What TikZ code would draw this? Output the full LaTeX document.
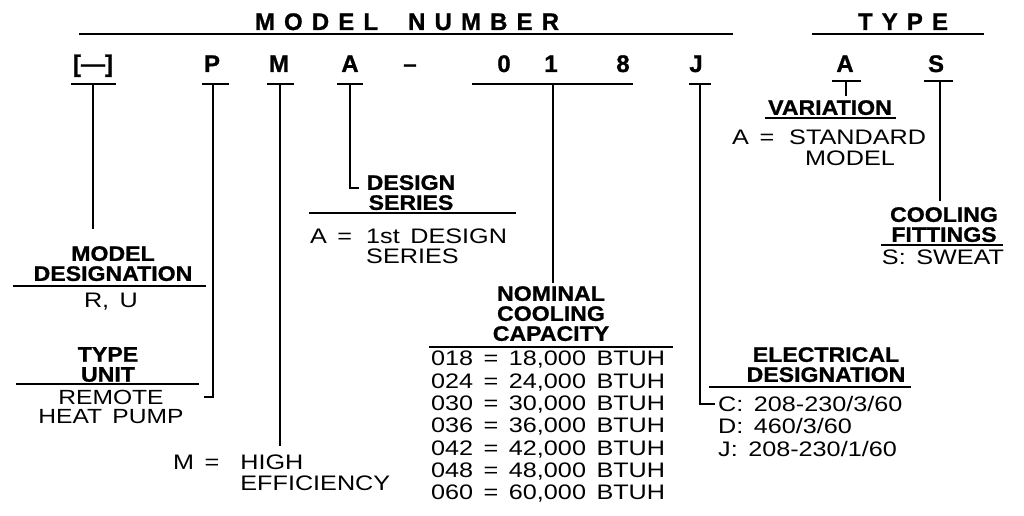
\documentclass[tikz,border=0pt]{standalone}
\usepackage{fontspec}
\setmainfont{Liberation Sans}
\newfontfamily\rgfont{Liberation Sans}[FakeStretch=1.2, WordSpace=1.5]
\newfontfamily\bdfont{Liberation Sans}[FakeStretch=1.1, FakeBold=1]
\newfontfamily\cdfont{Liberation Sans}[FakeBold=1]
\newfontfamily\hdfont{Liberation Sans}[LetterSpace=38, FakeBold=1]
\tikzset{
  rg/.style={font=\rgfont\fontsize{21}{21}\selectfont, inner sep=0pt},
  bd/.style={font=\bdfont\bfseries\fontsize{21}{20}\selectfont, inner sep=0pt},
  code/.style={font=\cdfont\bfseries\fontsize{24}{24}\selectfont, inner sep=0pt, anchor=base},
  hd/.style={font=\hdfont\bfseries\fontsize{24}{24}\selectfont, inner sep=0pt, anchor=base},
  ln/.style={line width=1.7pt, line cap=rect},
}
\begin{document}
\begin{tikzpicture}[x=1pt,y=-1pt]
\fill[white] (0,0) rectangle (1024,516);
\useasboundingbox (0,0) rectangle (1024,516);

% headings
\node[hd] (title) at (407,30) {MODEL\hspace{30pt}NUMBER};
\node[hd] (type) at (903,30) {TYPE};
\draw[ln] (80,34) -- (732,34);
\draw[ln] (813,34) -- (983,34);

% code letters
\node[code] (cBr) at (93,72) {[—]};
\node[code] (cP) at (212,72) {P};
\node[code] (cM) at (279,72) {M};
\node[code] (cA) at (350,72) {A};
\node[code] (cDash) at (410,72) {–};
\node[code] (c0) at (504,72) {0};
\node[code] (c1) at (551,72) {1};
\node[code] (c8) at (623,72) {8};
\node[code] (cJ) at (696,72) {J};
\node[code] (tA) at (845,72) {A};
\node[code] (tS) at (936,72) {S};

% underlines of code letters
\draw[ln] (72,84) -- (115,84);
\draw[ln] (203,84) -- (228,84);
\draw[ln] (268,84) -- (293,84);
\draw[ln] (338,84) -- (362,84);
\draw[ln] (473,84) -- (632,84);
\draw[ln] (690,84) -- (710,84);
\draw[ln] (833,81) -- (860,81);
\draw[ln] (925,81) -- (952,81);

% tick coordinates
\coordinate (kBr) at (93,84);
\coordinate (kP) at (213,84);
\coordinate (kM) at (280,84);
\coordinate (kA) at (350,84);
\coordinate (kN) at (553,84);
\coordinate (kJ) at (700,84);
\coordinate (kTA) at (846,81);
\coordinate (kTS) at (940,81);
\coordinate (eBr) at (93,228);
\coordinate (eP) at (205,397);
\coordinate (eM) at (280,445);
\coordinate (eA) at (358,188);
\coordinate (eN) at (553,282);
\coordinate (eJ) at (714,404);
\coordinate (eTA) at (846,95);
\coordinate (eTS) at (940,200);

% connectors
\draw[ln] (kBr) -- (eBr);
\draw[ln] (kP) |- (eP);
\draw[ln] (kM) -- (eM);
\draw[ln] (kA) |- (eA);
\draw[ln] (kN) -- (eN);
\draw[ln] (kJ) |- (eJ);
\draw[ln] (kTA) -- (eTA);
\draw[ln] (kTS) -- (eTS);

% model designation
\node[bd, align=center, anchor=north] (mdl) at (113,246) {MODEL\\DESIGNATION};
\draw[ln] (14,286) -- (205,286);
\node[rg, anchor=north] (mdlv) at (111,293) {R, U};

% type unit
\node[bd, align=center, anchor=north] (tu) at (108,347) {TYPE\\UNIT};
\draw[ln] (17,384) -- (198,384);
\node[rg, align=center, anchor=north, font=\rgfont\fontsize{20.5}{18.5}\selectfont] (tuv) at (111,390) {REMOTE\\HEAT PUMP};

% high efficiency
\node[rg, anchor=north west, font=\rgfont\fontsize{21}{20}\selectfont] (hi) at (173,455)
  {\begin{tabular}{@{}l@{\hspace{21pt}}l@{}}M =&HIGH\\&EFFICIENCY\end{tabular}};

% design series
\node[bd, align=center, anchor=north] (ds) at (411,175) {DESIGN\\SERIES};
\draw[ln] (310,213) -- (515,213);
\node[rg, anchor=north west, font=\rgfont\fontsize{21}{17}\selectfont] (dsv) at (310,229)
  {\begin{tabular}{@{}l@{\hspace{14pt}}l@{}}A =&1st DESIGN\\&SERIES\end{tabular}};

% nominal cooling capacity
\node[bd, align=center, anchor=north] (ncc) at (551,286) {NOMINAL\\COOLING\\CAPACITY};
\draw[ln] (430,347) -- (672,347);
\node[rg, align=left, anchor=north west, font=\rgfont\fontsize{21}{22.3}\selectfont] (ncct) at (431,351)
  {018 = 18,000 BTUH\\024 = 24,000 BTUH\\030 = 30,000 BTUH\\036 = 36,000 BTUH\\042 = 42,000 BTUH\\048 = 48,000 BTUH\\060 = 60,000 BTUH};

% electrical designation
\node[bd, align=center, anchor=north] (el) at (826,347) {ELECTRICAL\\DESIGNATION};
\draw[ln] (710,387) -- (910,387);
\node[rg, align=left, anchor=north west, font=\rgfont\fontsize{21}{22.5}\selectfont] (elv) at (718,396)
  {C: 208-230/3/60\\D: 460/3/60\\J: 208-230/1/60};

% variation
\node[bd, anchor=north] (var) at (830,100) {VARIATION};
\draw[ln] (766,118) -- (895,118);
\node[rg, anchor=north west, font=\rgfont\fontsize{21}{20}\selectfont] (varv) at (732,130)
  {\begin{tabular}{@{}l@{\hspace{15pt}}l@{}}A =&STANDARD\\&\hspace{16pt}MODEL\end{tabular}};

% cooling fittings
\node[bd, align=center, anchor=north] (cf) at (944,207) {COOLING\\FITTINGS};
\draw[ln] (882,245) -- (1002,245);
\node[rg, anchor=north] (cfv) at (943,250) {S: SWEAT};
\end{tikzpicture}
\end{document}
